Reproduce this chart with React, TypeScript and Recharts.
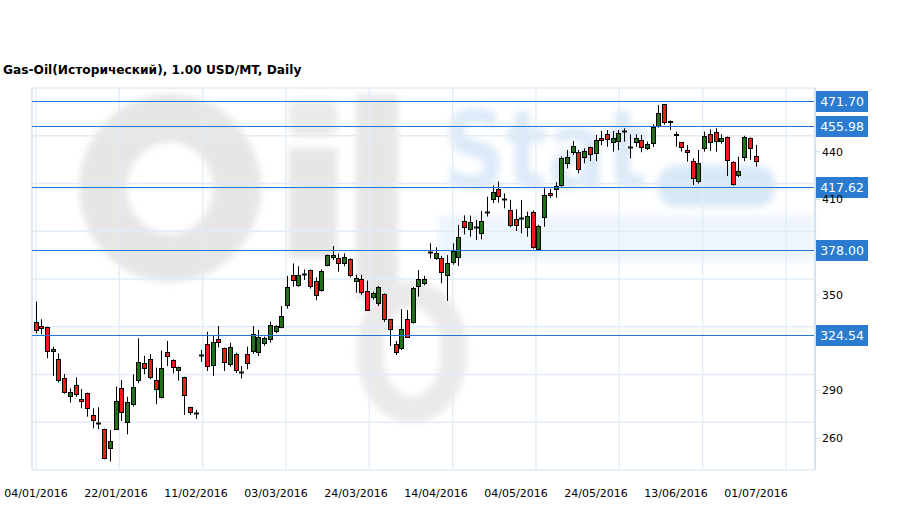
import React from 'react';
import {
  ComposedChart,
  Bar,
  XAxis,
  YAxis,
  CartesianGrid,
  ReferenceLine,
} from 'recharts';

// ---- data ----
const openP = [
  333.2, 330.5, 329.6, 314.6, 309.5, 297.6, 286.5, 293.2, 284.6, 288.2,
  274.4, 269.8, 265.6, 253.8, 265.6, 291.3, 270.0, 281.3, 296.6, 307.0,
  309.5, 296.6, 286.1, 314.1, 309.1, 302.6, 298.2, 279.4, 276.0, 312.1,
  319.0, 305.8, 322.1, 316.5, 306.6, 312.7, 301.8, 312.7, 315.0, 313.9,
  319.6, 322.1, 327.5, 330.1, 343.5, 362.3, 356.0, 363.0, 365.4, 359.0,
  353.3, 368.6, 373.8, 373.0, 369.8, 372.4, 358.5, 359.8, 352.7, 348.5,
  344.7, 350.4, 334.7, 319.0, 316.9, 335.1, 332.8, 355.8, 357.3, 377.2,
  373.4, 373.0, 362.3, 370.9, 373.6, 396.7, 391.2, 392.9, 388.7, 401.9,
  410.1, 416.6, 410.3, 403.2, 397.5, 398.6, 392.9, 401.9, 378.7, 398.8,
  413.9, 416.6, 419.1, 432.7, 440.0, 440.0, 436.9, 442.7, 439.0, 448.8,
  450.9, 445.9, 446.9, 453.0, 443.1, 445.9, 447.3, 442.1, 445.2, 456.3,
  469.7, 459.3, 450.5, 445.9, 440.8, 434.1, 421.8, 442.1, 451.3, 452.1,
  446.7, 449.0, 433.3, 425.3, 436.4, 448.4, 437.3,
];
const highP = [
  345.8, 334.7, 330.0, 317.5, 313.3, 300.3, 291.3, 298.2, 290.9, 288.6,
  278.8, 279.4, 266.0, 265.1, 292.4, 296.6, 286.0, 300.1, 322.7, 311.8,
  312.9, 304.3, 315.0, 321.1, 309.5, 305.0, 298.6, 279.8, 277.7, 315.4,
  326.9, 324.8, 330.5, 316.9, 320.0, 313.7, 305.3, 317.5, 330.5, 328.0,
  323.8, 333.2, 331.0, 343.0, 362.0, 369.8, 368.0, 366.0, 366.0, 361.0,
  366.0, 375.3, 380.7, 376.1, 376.1, 373.0, 362.7, 362.7, 359.0, 352.0,
  355.6, 351.0, 335.0, 321.0, 341.0, 340.5, 355.0, 365.6, 362.0, 382.4,
  379.9, 374.5, 375.0, 382.4, 394.0, 400.0, 399.8, 397.1, 402.7, 411.7,
  418.7, 421.2, 413.8, 409.7, 403.8, 409.7, 402.3, 403.0, 394.0, 417.0,
  416.6, 420.8, 437.0, 441.0, 446.7, 441.0, 442.1, 443.1, 450.5, 453.0,
  453.6, 453.0, 453.6, 454.7, 450.9, 450.9, 450.5, 446.3, 457.2, 469.3,
  470.0, 459.6, 452.6, 446.0, 444.2, 435.8, 441.0, 452.6, 454.0, 454.7,
  450.9, 449.5, 434.0, 436.9, 450.0, 449.0, 444.2,
];
const lowP = [
  325.9, 325.2, 310.2, 299.1, 295.0, 288.0, 282.3, 286.0, 278.8, 273.5,
  266.2, 265.6, 246.7, 245.3, 265.0, 270.8, 262.4, 279.8, 294.5, 300.1,
  297.0, 281.3, 285.0, 305.3, 300.7, 296.1, 274.6, 274.6, 272.1, 308.0,
  302.2, 299.1, 317.1, 302.2, 304.9, 301.0, 297.5, 303.3, 313.0, 311.6,
  318.0, 320.0, 326.0, 329.0, 341.4, 355.2, 355.0, 359.4, 354.0, 346.6,
  352.0, 368.0, 372.0, 364.6, 368.0, 361.0, 351.4, 350.0, 340.1, 347.0,
  343.0, 333.0, 317.9, 312.3, 315.4, 323.3, 332.0, 348.9, 356.0, 373.0,
  372.0, 357.3, 346.2, 369.0, 368.2, 388.0, 386.6, 384.5, 385.0, 399.2,
  407.6, 408.0, 404.4, 392.5, 390.2, 388.7, 386.6, 379.0, 378.0, 392.9,
  411.0, 411.1, 418.0, 429.5, 438.0, 426.4, 432.7, 434.1, 434.1, 444.0,
  443.1, 440.0, 441.0, 446.3, 435.8, 443.0, 439.6, 441.0, 443.0, 455.0,
  457.0, 453.6, 443.1, 440.0, 433.7, 419.1, 420.0, 440.0, 440.4, 440.0,
  445.0, 424.7, 418.7, 424.0, 434.0, 434.8, 430.6,
];
const closeP = [
  327.8, 329.2, 314.6, 316.0, 296.3, 289.0, 288.8, 287.8, 283.4, 278.8,
  271.4, 269.8, 247.4, 258.4, 283.6, 276.7, 282.5, 291.9, 307.7, 303.9,
  298.2, 290.7, 303.9, 311.6, 304.9, 304.5, 286.9, 276.5, 276.0, 312.1,
  305.6, 320.2, 320.6, 307.7, 317.1, 302.8, 301.8, 307.0, 325.2, 323.8,
  322.7, 330.9, 330.3, 336.5, 354.8, 359.2, 362.3, 363.0, 355.4, 349.7,
  364.8, 374.9, 374.9, 369.8, 373.6, 362.7, 360.4, 351.6, 340.7, 351.2,
  354.8, 335.1, 328.4, 313.9, 328.4, 323.8, 354.1, 359.8, 359.8, 377.2,
  376.1, 364.2, 369.9, 377.8, 386.2, 392.9, 395.6, 392.9, 396.7, 401.9,
  414.9, 412.4, 410.3, 393.7, 393.7, 398.6, 399.6, 380.3, 393.3, 412.8,
  412.6, 418.7, 435.8, 436.4, 443.6, 429.1, 440.4, 438.3, 447.3, 447.3,
  447.7, 448.4, 451.5, 453.0, 443.1, 448.8, 442.7, 444.6, 455.7, 464.1,
  458.9, 458.4, 451.3, 443.1, 439.6, 423.2, 432.7, 450.1, 445.9, 446.7,
  448.8, 434.8, 419.7, 428.1, 449.4, 442.5, 434.1,
];
const tickIdx = [0, 14, 28, 42, 56, 70, 84, 98, 112, 126];
const tickLabels = [
  '04/01/2016', '22/01/2016', '11/02/2016', '03/03/2016', '24/03/2016',
  '14/04/2016', '04/05/2016', '24/05/2016', '13/06/2016', '01/07/2016',
];
const priceTicks = [260, 290, 350, 410, 440];
const gridPrices = [240, 270, 300, 330, 360, 390, 420, 450, 480];
const gridIdx = [0, 14.58, 29.17, 43.75, 58.33, 72.92, 87.5, 102.08, 116.67, 131.25];
const levels = [471.7, 455.98, 417.62, 378.0, 324.54];

const data = openP.map((o, i) => ({
  i,
  open: o,
  high: highP[i],
  low: lowP[i],
  close: closeP[i],
  range: [lowP[i], highP[i]],
}));

const RED = '#ee1b1b';
const GREEN = '#23701a';
const FONT = 'DejaVu Sans';
const GRID = '#e2ecf6';
const LEVEL = '#2277d4';

const Candle = (props: any) => {
  const { x, y, width, height, payload } = props;
  if (!payload) return null;
  const { open, close, high, low } = payload;
  const top = Math.min(y, y + height);
  const h = Math.abs(height);
  const py = (v: number) => top + ((high - v) / (high - low)) * h;
  const cx = Math.round(x + width / 2) + 0.5;
  const yo = py(open);
  const yc = py(close);
  const bt = Math.round(Math.min(yo, yc)) + 0.5;
  const bb = Math.round(Math.max(yo, yc)) + 0.5;
  const bw = 4;
  const doji = Math.abs(open - close) < 0.01;
  return (
    <g>
      <line x1={cx} x2={cx} y1={top} y2={top + h} stroke="#000" strokeWidth={1} />
      {doji ? (
        <rect x={cx - bw / 2 - 0.5} y={bt - 1} width={bw + 1} height={2} fill="#111" />
      ) : (
        <rect
          x={cx - bw / 2}
          y={bt}
          width={bw}
          height={Math.max(bb - bt, 1)}
          fill={close > open ? GREEN : RED}
          stroke="#000"
          strokeWidth={1}
        />
      )}
    </g>
  );
};

const LevelLine = (props: any) => {
  const { x1, x2, y1 } = props;
  if (x1 == null || y1 == null) return null;
  const yy = Math.round(y1) + 0.5;
  return <line x1={x1} x2={x2} y1={yy} y2={yy} stroke={LEVEL} strokeWidth={1} />;
};

const DateTick = (props: any) => {
  const { x, y, payload } = props;
  const k = tickIdx.indexOf(payload.value);
  return (
    <text x={x} y={y + 26.5} textAnchor="middle" fontSize={11} fontFamily={FONT} fill="#000">
      {k >= 0 ? tickLabels[k] : ''}
    </text>
  );
};

const LevelLabel = (props: any) => {
  const { viewBox, v } = props;
  if (!viewBox) return null;
  const { x, y, width } = viewBox;
  const bx = x + width + 1;
  return (
    <g>
      <rect x={bx} y={Math.round(y) - 10} width={52} height={21} fill="#2b7bd1" />
      <text
        x={bx + 26}
        y={y}
        dy="0.36em"
        textAnchor="middle"
        fill="#fff"
        fontSize={12.5}
        fontFamily={FONT}
      >
        {v.toFixed(2)}
      </text>
    </g>
  );
};

const Watermark = () => (
  <svg width={909} height={509} style={{ position: 'absolute', left: 0, top: 0 }}>
    <defs>
      <filter id="wmblur" x="-20%" y="-20%" width="140%" height="140%">
        <feGaussianBlur stdDeviation="3.5" />
      </filter>
    </defs>
    <g filter="url(#wmblur)">
      <rect x={438} y={215} width={377} height={47} fill="#eef5fc" />
      <rect x={657} y={165} width={119} height={42} rx={20} fill="#d9e8f7" />
      <text
        x={443}
        y={188}
        fontSize={108}
        fontWeight="bold"
        fontFamily={FONT}
        fill="#dceaf8"
        textLength={205}
        lengthAdjust="spacingAndGlyphs"
      >
        Stat
      </text>
      <ellipse cx={170} cy={188} rx={67} ry={70} fill="none" stroke="#e6e6e6" strokeWidth={48} />
      <rect x={289} y={100} width={48} height={36} rx={8} fill="#eaeaea" />
      <rect x={289} y={148} width={48} height={110} fill="#e6e6e6" />
      <rect x={356} y={95} width={42} height={205} fill="#e6e6e6" />
      <ellipse cx={412} cy={352} rx={42} ry={58} fill="none" stroke="#eaeaea" strokeWidth={26} />
    </g>
    <text x={3} y={74} fontSize={12.2} fontWeight="bold" fontFamily={FONT} fill="#000">
      Gas-Oil(Исторический), 1.00 USD/MT, Daily
    </text>
  </svg>
);

export default function App() {
  return (
    <div
      style={{
        position: 'absolute',
        left: 0,
        top: 0,
        width: 909,
        height: 509,
        background: '#fff',
        overflow: 'hidden',
      }}
    >
      <Watermark />
      <div style={{ position: 'absolute', left: 0, top: 0 }}>
        <ComposedChart
          width={909}
          height={509}
          data={data}
          margin={{ top: 88, right: 34, bottom: 9, left: 32 }}
        >
          <XAxis
            dataKey="i"
            type="number"
            domain={[-0.7, 136.33]}
            allowDataOverflow
            ticks={tickIdx}
            interval={0}
            axisLine={false}
            tickLine={false}
            tickSize={0}
            tickMargin={0}
            height={30}
            tick={<DateTick />}
          />
          <YAxis
            orientation="right"
            domain={[240, 480]}
            allowDataOverflow
            ticks={priceTicks}
            interval={0}
            width={60}
            axisLine={{ stroke: '#d5e3f1', strokeWidth: 2 }}
            tickLine={{ stroke: '#c9dbee' }}
            tickSize={5}
            tickMargin={2}
            tick={{ fill: '#000', fontSize: 11, fontFamily: FONT }}
          />
          <CartesianGrid
            stroke={GRID}
            strokeWidth={1.3}
            verticalValues={gridIdx}
            horizontalValues={gridPrices}
          />
          <ReferenceLine x={-0.7} stroke="#d5e3f1" strokeWidth={1.5} ifOverflow="visible" />
          <Bar
            dataKey="range"
            barSize={5}
            shape={<Candle />}
            isAnimationActive={false}
          />
          {levels.map((v) => (
            <ReferenceLine
              key={v}
              y={v}
              stroke={LEVEL}
              strokeWidth={1}
              shape={<LevelLine />}
              label={<LevelLabel v={v} />}
            />
          ))}
        </ComposedChart>
      </div>
    </div>
  );
}
